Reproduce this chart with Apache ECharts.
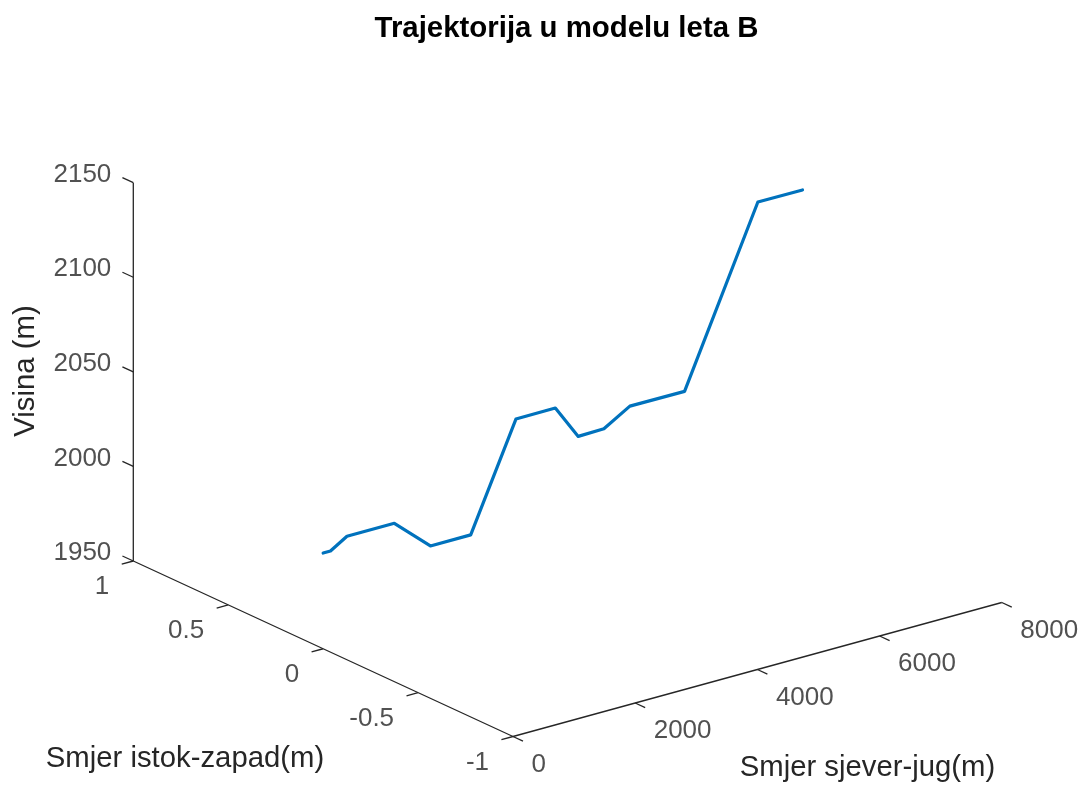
<!DOCTYPE html>
<html>
<head>
<meta charset="utf-8">
<script src="https://cdn.jsdelivr.net/npm/echarts@6/dist/echarts.min.js"></script>
<style>
html,body{margin:0;padding:0;background:#fff;}
#chart{width:1087px;height:786px;}
</style>
</head>
<body>
<div id="chart"></div>
<script>
// ---- data ----
const titleText = 'Trajektorija u modelu leta B';
const zAxisName = 'Visina (m)';
const xAxisName = 'Smjer istok-zapad(m)';
const yAxisName = 'Smjer sjever-jug(m)';

// trajectory: east-west (x), north-south (y), height (z)
const eastWest   = [0, 0, 0, 0, 0, 0, 0, 0, 0, 0, 0, 0, 0, 0];
const northSouth = [0, 120, 390, 1165, 1755, 2415, 3155, 3800, 4175, 4595, 5020, 5915, 7115, 7845];
const heightM    = [2000.6, 2000.6, 2006.0, 2006.0, 1988.8, 1988.8, 2043.5, 2043.6, 2025.3, 2025.6, 2033.8, 2033.7, 2123.2, 2123.1];

// axis ticks
const xTicks = [-1, -0.5, 0, 0.5, 1];
const xTickLabels = ['-1', '-0.5', '0', '0.5', '1'];
const yTicks = [0, 2000, 4000, 6000, 8000];
const yTickLabels = ['0', '2000', '4000', '6000', '8000'];
const zTicks = [1950, 2000, 2050, 2100, 2150];
const zTickLabels = ['1950', '2000', '2050', '2100', '2150'];

// ---- view (orthographic projection of the 3D box) ----
const X_MIN = -1, X_MAX = 1, Y_MIN = 0, Y_MAX = 8000, Z_MIN = 1950, Z_MAX = 2150;
const O  = [323.15, 648.75];     // screen position of (0, 0, Z_MIN)
const EX = [-189.85, -87.75];    // per unit of x
const EY = [0.0611, -0.01675];   // per metre of y
const EZ = 1.8915;               // per metre of z (upwards)

function proj(x, y, z) {
  return [O[0] + x * EX[0] + y * EY[0], O[1] + x * EX[1] + y * EY[1] - (z - Z_MIN) * EZ];
}
function unit(v) { const l = Math.hypot(v[0], v[1]); return [v[0] / l, v[1] / l]; }

const AXIS_COLOR = '#262626';
const FONT = "'Liberation Sans', Arial, Helvetica, sans-serif";

// trajectory
const trajData = northSouth.map((y, i) => proj(eastWest[i], y, heightM[i]));

// axis lines: z at (x=1,y=0), x along y=0, y along x=-1
const axisData = [
  proj(X_MAX, Y_MIN, Z_MAX),
  proj(X_MAX, Y_MIN, Z_MIN),
  proj(X_MIN, Y_MIN, Z_MIN),
  proj(X_MIN, Y_MAX, Z_MIN)
];

// tick segments
const uX = unit(EX), uNegX = [-uX[0], -uX[1]], uNegY = unit([-EY[0], -EY[1]]);
const tickSegs = [];
zTicks.forEach(z => { const p = proj(X_MAX, Y_MIN, z); tickSegs.push([p[0], p[1], p[0] + uX[0] * 12, p[1] + uX[1] * 12]); });
xTicks.forEach(x => { const p = proj(x, Y_MIN, Z_MIN); tickSegs.push([p[0], p[1], p[0] + uNegY[0] * 12, p[1] + uNegY[1] * 12]); });
yTicks.forEach(y => { const p = proj(X_MIN, y, Z_MIN); tickSegs.push([p[0], p[1], p[0] + uNegX[0] * 11, p[1] + uNegX[1] * 11]); });

function labelSeries(ticks, labels, ptFn, align, offset) {
  return {
    type: 'scatter', symbolSize: 0, silent: true, z: 5,
    data: ticks.map((t, i) => ({ name: labels[i], value: ptFn(t) })),
    label: {
      show: true, position: 'inside', formatter: '{b}', align: align, verticalAlign: 'middle',
      offset: offset, color: AXIS_COLOR, fontSize: 26, fontFamily: FONT
    }
  };
}

const chart = echarts.init(document.getElementById('chart'), null, { renderer: 'canvas' });
chart.setOption({
  animation: false,
  backgroundColor: '#ffffff',
  grid: { left: 0, right: 0, top: 0, bottom: 0 },
  xAxis: { type: 'value', min: 0, max: 1087, show: false },
  yAxis: { type: 'value', min: 0, max: 786, inverse: true, show: false },
  series: [
    {
      type: 'line', data: axisData, showSymbol: false, silent: true,
      lineStyle: { color: AXIS_COLOR, width: 1.3 }
    },
    {
      type: 'custom', data: tickSegs, silent: true,
      renderItem: function (params, api) {
        const a = api.coord([api.value(0), api.value(1)]);
        const b = api.coord([api.value(2), api.value(3)]);
        return { type: 'line', shape: { x1: a[0], y1: a[1], x2: b[0], y2: b[1] },
                 style: { stroke: AXIS_COLOR, lineWidth: 1.3 } };
      }
    },
    labelSeries(zTicks, zTickLabels, z => proj(X_MAX, Y_MIN, z), 'right', [-22, -8]),
    labelSeries(xTicks, xTickLabels, x => proj(x, Y_MIN, Z_MIN), 'right', [-24, 26]),
    labelSeries(yTicks, yTickLabels, y => proj(X_MIN, y, Z_MIN), 'left', [18.5, 28]),
    {
      type: 'line', data: trajData, showSymbol: false, z: 4,
      lineStyle: { color: '#0072BD', width: 3.2, join: 'round', cap: 'round' }
    }
  ],
  graphic: [
    { type: 'text', x: 566.5, y: 29, style: { text: titleText, textAlign: 'center', textVerticalAlign: 'middle',
      fill: '#000', font: "bold 29.4px " + FONT } },
    { type: 'text', x: 26, y: 371, rotation: Math.PI / 2, style: { text: zAxisName, textAlign: 'center', textVerticalAlign: 'middle',
      fill: AXIS_COLOR, font: "29.3px " + FONT } },
    { type: 'text', x: 185, y: 759, style: { text: xAxisName, textAlign: 'center', textVerticalAlign: 'middle',
      fill: AXIS_COLOR, font: "29.3px " + FONT } },
    { type: 'text', x: 867.5, y: 768, style: { text: yAxisName, textAlign: 'center', textVerticalAlign: 'middle',
      fill: AXIS_COLOR, font: "29.3px " + FONT } }
  ]
});
</script>
</body>
</html>
